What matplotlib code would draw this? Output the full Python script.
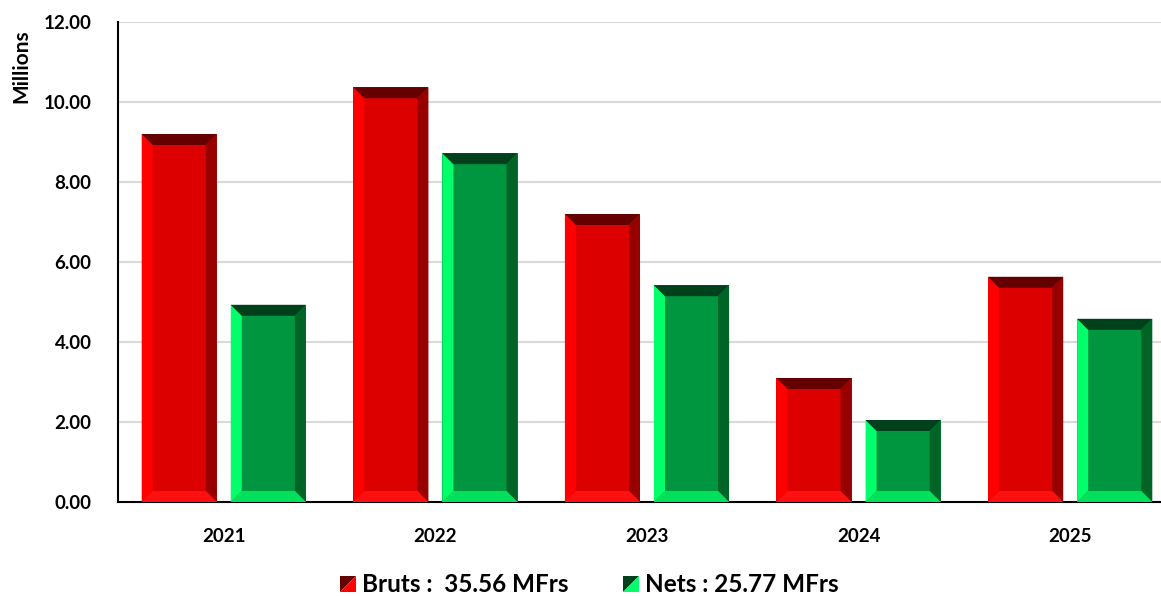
import numpy as np
import matplotlib.pyplot as plt
from matplotlib.patches import Polygon
from matplotlib.legend_handler import HandlerBase

plt.rcParams['font.family'] = ['Lato', 'DejaVu Sans']

annees = ['2021', '2022', '2023', '2024', '2025']
bruts = [9.20, 10.37, 7.20, 3.10, 5.63]
nets = [4.93, 8.72, 5.42, 2.05, 4.58]
labels = ['Bruts :  35.56 MFrs', 'Nets : 25.77 MFrs']

# face, gauche, haut, droite, bas
rouge = ['#dc0000', '#ff0000', '#640000', '#980000', '#ff1010']
vert = ['#009640', '#00ff6a', '#00401a', '#006426', '#00e05a']

W, H = 1161, 596
fig = plt.figure(figsize=(W / 100, H / 100), dpi=100)
ax_l, ax_r, ax_t, ax_b = 118, 1176, 22, 502
ax = fig.add_axes([ax_l / W, (H - ax_b) / H, (ax_r - ax_l) / W, (ax_b - ax_t) / H])
ax.set_xlim(-0.5, 4.5)
ax.set_ylim(0, 12)

px_x = 5.0 / (ax_r - ax_l)   # unités par pixel (x)
px_y = 12.0 / (ax_b - ax_t)  # unités par pixel (y)
bev = 11


def barre(x0, w, h, cols):
    bx, by = bev * px_x, min(bev * px_y, h / 2)
    x1 = x0 + w
    ix0, ix1 = x0 + bx, x1 - bx
    iy0, iy1 = by, h - by
    parts = [
        ([(x0, 0), (x1, 0), (x1, h), (x0, h)], cols[0]),
        ([(x0, 0), (ix0, iy0), (ix0, iy1), (x0, h)], cols[1]),
        ([(x0, h), (ix0, iy1), (ix1, iy1), (x1, h)], cols[2]),
        ([(x1, h), (ix1, iy1), (ix1, iy0), (x1, 0)], cols[3]),
        ([(x0, 0), (x1, 0), (ix1, iy0), (ix0, iy0)], cols[4]),
    ]
    for pts, c in parts:
        ax.add_patch(Polygon(pts, closed=True, facecolor=c, edgecolor='none', zorder=3))


x = np.arange(len(annees))
bw = 0.355
for i in x:
    barre(i - 0.066 / 2 - bw, bw, bruts[i], rouge)
    barre(i + 0.066 / 2, bw, nets[i], vert)

ax.set_yticks(np.arange(0, 13, 2))
ax.set_yticklabels([f'{v:.2f}' for v in np.arange(0, 13, 2)], fontsize=13.5, fontweight='bold')
ax.set_xticks(x)
ax.set_xticklabels(annees, fontsize=13.5, fontweight='bold')
ax.tick_params(axis='both', length=0)
ax.tick_params(axis='x', pad=19)
ax.tick_params(axis='y', pad=19)
ax.grid(axis='y', color='#d9d9d9', linewidth=1.5, zorder=0)
ax.set_axisbelow(True)
for s in ['top', 'right']:
    ax.spines[s].set_visible(False)
ax.spines['left'].set_linewidth(1.5)
ax.spines['bottom'].set_linewidth(1.5)
fig.text(21 / W, 1 - 66 / H, 'Millions', rotation=90, ha='center', va='center',
         fontsize=15, fontweight='bold')


class Carre(HandlerBase):
    def create_artists(self, legend, orig, xd, yd, width, height, fontsize, trans):
        s = height * 0.95
        x0 = xd + width - s
        y0 = yd + (height - s) / 2 - 1
        cols = orig.get_label_cols()
        a = Polygon([(x0, y0), (x0, y0 + s), (x0 + s, y0 + s)], facecolor=cols[2],
                    edgecolor='none', transform=trans)
        b = Polygon([(x0, y0), (x0 + s, y0), (x0 + s, y0 + s)], facecolor=cols[1],
                    edgecolor='none', transform=trans)
        return [a, b]


class Cle:
    def __init__(self, cols):
        self.cols = cols

    def get_label_cols(self):
        return self.cols


h1, h2 = Cle(rouge), Cle(vert)
fig.legend([h1, h2], labels, handler_map={Cle: Carre()}, loc='center',
           bbox_to_anchor=(588 / W, 1 - 584 / H), ncol=2, frameon=False,
           prop={'size': 17.5, 'weight': 'bold'}, handlelength=0.8, handletextpad=0.25,
           columnspacing=2.1)

fig.savefig('out.png', dpi=100)
